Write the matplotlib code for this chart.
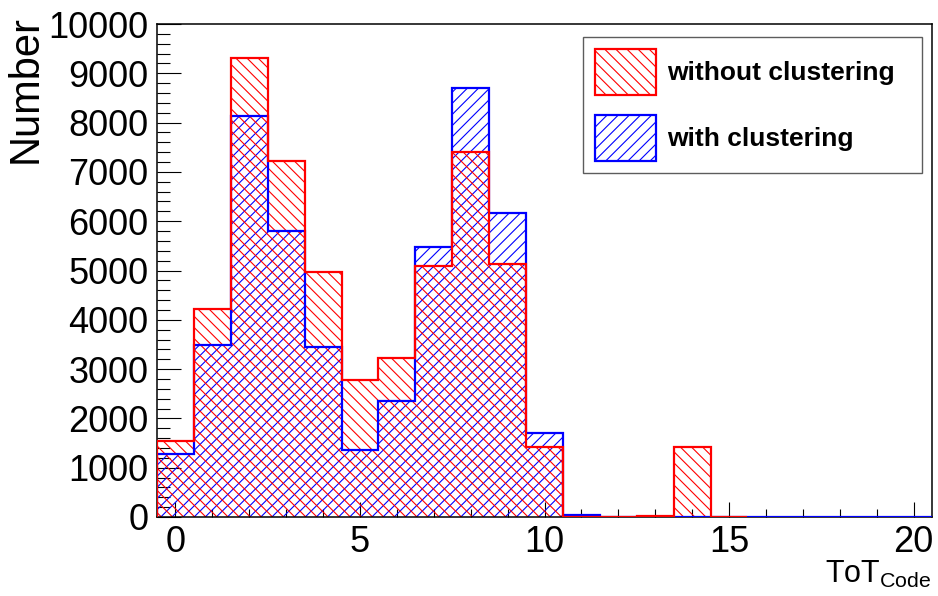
import numpy as np
import matplotlib
matplotlib.use('Agg')
import matplotlib.pyplot as plt
from matplotlib.patches import Patch

plt.rcParams['font.family'] = ['Liberation Sans', 'DejaVu Sans']
plt.rcParams['hatch.linewidth'] = 0.8

# ToT code bins (centres 0..20), counts
tot_codes = np.arange(0, 21)
without_clustering = [1550, 4220, 9310, 7220, 4970, 2780, 3230, 5090, 7400, 5130,
                      1420, 0, 0, 30, 1420, 0]
with_clustering = [1270, 3490, 8130, 5800, 3450, 1360, 2360, 5480, 8700, 6170,
                   1700, 50, 0, 10, 10, 0, 0, 0, 0, 0, 0]
labels = ['without clustering', 'with clustering']

fig = plt.figure(figsize=(9.38, 5.96), dpi=100)
ax = fig.add_axes([157 / 938, 1 - 517 / 596, 775 / 938, 493 / 596])

edges_blue = np.append(tot_codes - 0.5, tot_codes[-1] + 0.5)
edges_red = edges_blue[:len(without_clustering) + 1]

# hatched fills
ax.stairs(with_clustering, edges_blue, fill=True, facecolor='none',
          edgecolor='blue', linewidth=0, hatch='///', zorder=2)
ax.stairs(without_clustering, edges_red, fill=True, facecolor='none',
          edgecolor='red', linewidth=0, hatch='\\\\\\', zorder=2)
# outlines
ax.stairs(with_clustering, edges_blue, fill=False, color='blue', linewidth=1.6, zorder=3)
ax.stairs(without_clustering, edges_red, fill=False, color='red', linewidth=1.6, zorder=4)

ax.set_xlim(-0.5, 20.5)
ax.set_ylim(0, 10000)
ax.set_xticks([0, 5, 10, 15, 20])
ax.set_xticks(np.arange(0, 21), minor=True)
ax.set_yticks(np.arange(0, 10001, 1000))
ax.set_yticks(np.arange(0, 10001, 200), minor=True)

ax.tick_params(axis='both', which='both', direction='in', width=0.8,
               top=False, right=False, labelsize=26, colors='black')
ax.tick_params(axis='y', which='major', length=17, pad=6)
ax.tick_params(axis='y', which='minor', length=9)
ax.tick_params(axis='x', which='major', length=11, pad=6)
ax.tick_params(axis='x', which='minor', length=6)
for s in ax.spines.values():
    s.set_linewidth(1.1)

fig.text(26 / 938, 1 - 15 / 596, 'Number', rotation=90, ha='center', va='top', fontsize=30)
fig.text(932 / 938, 1 - 583 / 596, 'ToT$_\\mathregular{Code}$', ha='right',
         va='baseline', fontsize=22)

handles = [Patch(facecolor='none', edgecolor='red', hatch='\\\\\\', linewidth=1.6),
           Patch(facecolor='none', edgecolor='blue', hatch='///', linewidth=1.6)]
leg = ax.legend(handles, labels, loc='upper left', mode='expand',
                bbox_to_anchor=(0.5497, 0.6978, 0.4373, 0.2758), borderaxespad=0,
                prop={'weight': 'bold', 'size': 19}, handlelength=2.3, handleheight=2.32,
                labelspacing=0.75, borderpad=0.45, handletextpad=0.45,
                fancybox=False, frameon=True)
leg.get_frame().set_edgecolor('#333333')
leg.get_frame().set_linewidth(1.0)

fig.savefig('out.png', dpi=100)
